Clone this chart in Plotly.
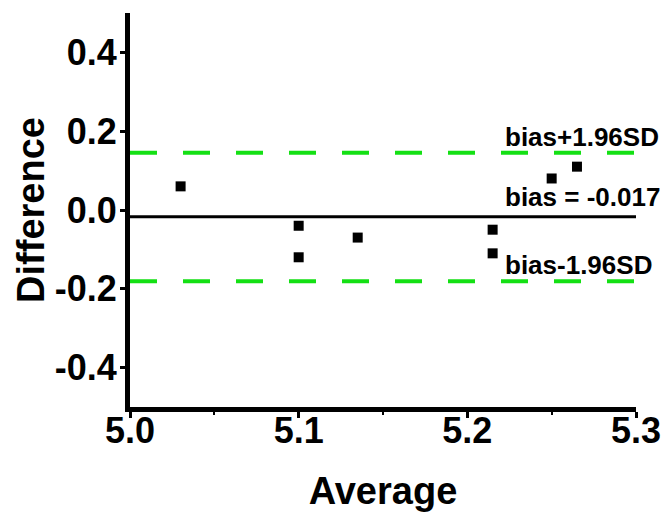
import plotly.graph_objects as go

# Data
average = [5.03, 5.10, 5.10, 5.135, 5.215, 5.215, 5.25, 5.265]
difference = [0.06, -0.04, -0.12, -0.07, -0.05, -0.11, 0.08, 0.11]
bias = -0.017
upper_loa = 0.145
lower_loa = -0.181
x_range = [5.0, 5.3]
y_range = [-0.5, 0.5]
x_ticks = [5.0, 5.1, 5.2, 5.3]
x_ticktext = ["5.0", "5.1", "5.2", "5.3"]
y_ticks = [0.4, 0.2, 0.0, -0.2, -0.4]
y_ticktext = ["0.4", "0.2", "0.0", "-0.2", "-0.4"]
labels = ["bias+1.96SD", "bias = -0.017", "bias-1.96SD"]
label_x = 5.221

FONT = "Liberation Sans, Arial, sans-serif"
GREEN = "rgb(20,224,20)"

fig = go.Figure()

# limits of agreement
for yv in [upper_loa, lower_loa]:
    fig.add_trace(go.Scatter(x=x_range, y=[yv, yv], mode="lines",
                             line=dict(color=GREEN, width=4, dash="27px,26px"),
                             hoverinfo="skip", showlegend=False))
# bias line
fig.add_trace(go.Scatter(x=x_range, y=[bias, bias], mode="lines",
                         line=dict(color="black", width=3),
                         hoverinfo="skip", showlegend=False))
# points
fig.add_trace(go.Scatter(x=average, y=difference, mode="markers",
                         marker=dict(symbol="square", size=10, color="black"),
                         showlegend=False))

for txt, yv, ys in zip(labels, [upper_loa, bias, lower_loa], [16, 20, 16]):
    fig.add_annotation(x=label_x, y=yv, text="<b>" + txt + "</b>", showarrow=False,
                       xanchor="left", yanchor="middle", yshift=ys,
                       font=dict(family=FONT, size=26, color="black"))

fig.update_layout(
    width=662, height=512,
    margin=dict(l=130, r=26, t=13, b=105),
    paper_bgcolor="white", plot_bgcolor="white",
    font=dict(family=FONT, color="black"),
)
fig.update_xaxes(
    range=x_range, tickvals=x_ticks, ticktext=x_ticktext,
    showgrid=False, zeroline=False,
    showline=True, linecolor="black", linewidth=5,
    ticks="outside", ticklen=6, tickwidth=3, tickcolor="black",
    minor=dict(ticks="outside", ticklen=3, tickwidth=2, tickcolor="black", dtick=0.05, showgrid=False),
    tickfont=dict(family=FONT, size=36, weight="bold"),
    ticklabelstandoff=-18,
    title=dict(text="<b>Average</b>", font=dict(family=FONT, size=38), standoff=30),
    automargin=False,
)
fig.update_yaxes(
    range=y_range, tickvals=y_ticks, ticktext=y_ticktext,
    showgrid=False, zeroline=False,
    showline=True, linecolor="black", linewidth=5,
    ticks="outside", ticklen=5, tickwidth=3, tickcolor="black",
    tickfont=dict(family=FONT, size=36, weight="bold"),
    ticklabelstandoff=-4,
    title=dict(text="<b>Difference</b>", font=dict(family=FONT, size=38), standoff=0),
    automargin=False,
)

fig.write_html("out.html", config={"displayModeBar": False},
               post_script="document.body.style.margin='0';document.body.style.padding='0';")
